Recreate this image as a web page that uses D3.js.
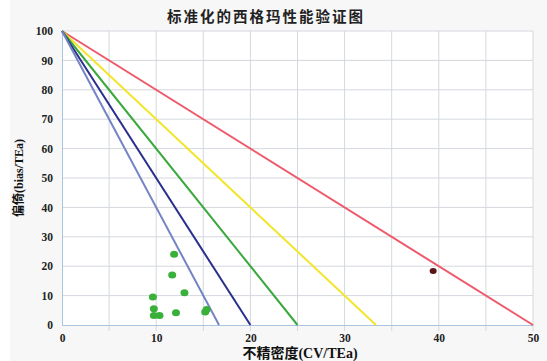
<!DOCTYPE html>
<html>
<head>
<meta charset="utf-8">
<script src="https://cdn.jsdelivr.net/npm/d3@7"></script>
<style>
  body { margin: 0; background: #fff; }
  text { font-family: "Liberation Serif", "Noto Sans CJK SC", serif; }
</style>
</head>
<body>
<svg id="chart" width="547" height="361"></svg>
<script>
// sigma lines: x-intercepts (CV/TEa) of lines starting at (0,100)
const sigmaNames = ["2σ", "3σ", "4σ", "5σ", "6σ"];
const sigmaIntercepts = [50, 33.33, 25, 20, 16.67];
const sigmaColors = ["#ee5a6a", "#f2e52a", "#3aa83c", "#2a2f8c", "#7484c4"];

// measured points
const cvValues = [11.9, 11.7, 13.0, 9.65, 9.75, 9.75, 10.35, 12.1, 15.2, 15.35];
const biasValues = [24.1, 17.0, 11.0, 9.5, 5.5, 3.2, 3.2, 4.2, 4.4, 5.3];
const outlierCv = [39.4];
const outlierBias = [18.4];

const xTicks = [0, 10, 20, 30, 40, 50];
const xGrid = [0, 5, 10, 15, 20, 25, 30, 35, 40, 45, 50];
const yTicks = [0, 10, 20, 30, 40, 50, 60, 70, 80, 90, 100];

const svg = d3.select("#chart");
const params = { LEFT: 62, RIGHT: 533, TOP: 31, BOTTOM: 325 };

const X_SCALE = d3.scaleLinear().domain([0, 50]).range([params.LEFT, params.RIGHT]);
const Y_SCALE = d3.scaleLinear().domain([0, 100]).range([params.BOTTOM, params.TOP]);

// chart background
svg.append("rect")
  .attr("x", 10).attr("y", 0).attr("width", 537).attr("height", 361)
  .attr("fill", "#f7f7f7");
svg.append("rect")
  .attr("x", params.LEFT).attr("y", params.TOP)
  .attr("width", params.RIGHT - params.LEFT).attr("height", params.BOTTOM - params.TOP)
  .attr("fill", "#fff");

// gridlines
svg.append("g")
  .selectAll("line")
  .data(xGrid)
  .enter()
  .append("line")
  .attr("x1", d => X_SCALE(d)).attr("x2", d => X_SCALE(d))
  .attr("y1", params.TOP).attr("y2", params.BOTTOM + 6)
  .attr("stroke", d => d === 0 ? "none" : "#d4d8de")
  .attr("stroke-width", 1);

svg.append("g")
  .selectAll("line")
  .data(yTicks)
  .enter()
  .append("line")
  .attr("x1", params.LEFT).attr("x2", params.RIGHT)
  .attr("y1", d => Y_SCALE(d)).attr("y2", d => Y_SCALE(d))
  .attr("stroke", d => d === 0 ? "none" : "#d4d8de")
  .attr("stroke-width", 1);

// axes
const X_AXIS = d3.axisBottom(X_SCALE).tickValues(xTicks).tickSize(0).tickPadding(9);
svg.append("g")
  .attr("transform", `translate(0, ${params.BOTTOM})`)
  .call(X_AXIS)
  .call(g => g.select(".domain").attr("stroke", "#a9c4de"))
  .call(g => g.selectAll("text").attr("font-size", 11.5).attr("font-weight", "bold").attr("fill", "#222"));

const Y_AXIS = d3.axisLeft(Y_SCALE).tickValues(yTicks).tickSize(0).tickPadding(9);
svg.append("g")
  .attr("transform", `translate(${params.LEFT}, 0)`)
  .call(Y_AXIS)
  .call(g => g.select(".domain").attr("stroke", "#a9c4de"))
  .call(g => g.selectAll("text").attr("font-size", 11.5).attr("font-weight", "bold").attr("fill", "#222"));

// sigma lines
svg.append("g")
  .selectAll("line")
  .data(sigmaIntercepts)
  .enter()
  .append("line")
  .attr("x1", X_SCALE(0)).attr("y1", Y_SCALE(100))
  .attr("x2", d => X_SCALE(d)).attr("y2", Y_SCALE(0))
  .attr("stroke", (d, i) => sigmaColors[i])
  .attr("stroke-width", 2);

// points
svg.append("g")
  .selectAll("ellipse")
  .data(cvValues)
  .enter()
  .append("ellipse")
  .attr("cx", d => X_SCALE(d))
  .attr("cy", (d, i) => Y_SCALE(biasValues[i]))
  .attr("rx", 4).attr("ry", 3.5)
  .attr("fill", "#38b03a");

svg.append("g")
  .selectAll("ellipse")
  .data(outlierCv)
  .enter()
  .append("ellipse")
  .attr("cx", d => X_SCALE(d))
  .attr("cy", (d, i) => Y_SCALE(outlierBias[i]))
  .attr("rx", 3.5).attr("ry", 3)
  .attr("fill", "#5a1418");

// titles
svg.append("text")
  .attr("x", 266).attr("y", 22)
  .attr("text-anchor", "middle")
  .attr("font-size", 14.5).attr("font-weight", "bold")
  .attr("letter-spacing", 2)
  .attr("fill", "#222")
  .text("标准化的西格玛性能验证图");

svg.append("text")
  .attr("x", 300).attr("y", 358)
  .attr("text-anchor", "middle")
  .attr("font-size", 14).attr("font-weight", "bold")
  .attr("fill", "#111")
  .text("不精密度(CV/TEa)");

svg.append("text")
  .attr("transform", "translate(23, 178) rotate(-90)")
  .attr("text-anchor", "middle")
  .attr("font-size", 12).attr("font-weight", "bold")
  .attr("fill", "#111")
  .text("偏倚(bias/TEa)");
</script>
</body>
</html>
